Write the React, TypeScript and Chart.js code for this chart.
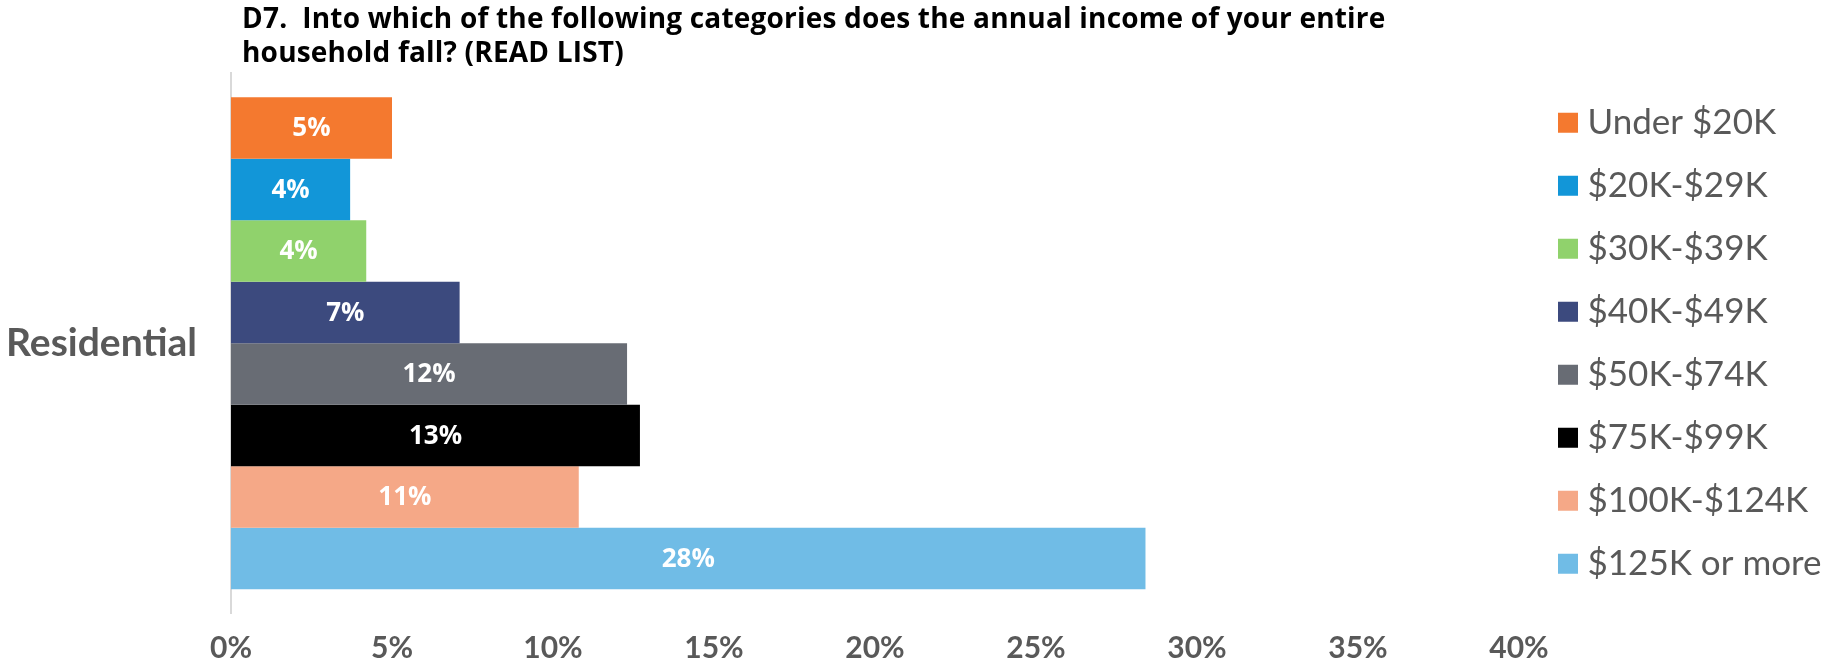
import React, { useEffect, useRef } from "react";
import { Chart, registerables } from "chart.js";

Chart.register(...registerables);

const categories = ["Residential"];
const seriesNames = [
  "Under $20K",
  "$20K-$29K",
  "$30K-$39K",
  "$40K-$49K",
  "$50K-$74K",
  "$75K-$99K",
  "$100K-$124K",
  "$125K or more",
];
const seriesValues = [5.0, 3.7, 4.2, 7.1, 12.3, 12.7, 10.8, 28.4];
const seriesColors = [
  "#F4792F",
  "#1296D8",
  "#90D26C",
  "#3C4A7E",
  "#686C74",
  "#000000",
  "#F5A887",
  "#70BCE6",
];
const xTickValues = [0, 5, 10, 15, 20, 25, 30, 35, 40];
const titleLines = [
  "D7.  Into which of the following categories does the annual income of your entire",
  "household fall? (READ LIST)",
];

const GRAY = "#595959";
const X_MAX = 40.59;

const barLabelPlugin = {
  id: "barLabels",
  afterDatasetsDraw(chart: any) {
    const ctx = chart.ctx;
    ctx.save();
    ctx.fillStyle = "#FFFFFF";
    ctx.font = "bold 26px 'Open Sans'";
    ctx.textAlign = "center";
    ctx.textBaseline = "middle";
    chart.data.datasets.forEach((ds: any, i: number) => {
      const meta = chart.getDatasetMeta(i);
      meta.data.forEach((el: any, j: number) => {
        const v = ds.data[j];
        const cx = (el.x + el.base) / 2;
        ctx.fillText(Math.round(v) + "%", cx, el.y + 1);
      });
    });
    ctx.restore();
  },
};

export default function App() {
  const canvasRef = useRef<HTMLCanvasElement | null>(null);

  useEffect(() => {
    if (!canvasRef.current) return;
    const chart = new Chart(canvasRef.current, {
      type: "bar",
      data: {
        labels: categories,
        datasets: seriesNames.map((name, i) => ({
          label: name,
          data: [seriesValues[i]],
          backgroundColor: seriesColors[i],
          borderWidth: 0,
          categoryPercentage: 0.91,
          barPercentage: 1.0,
        })),
      },
      options: {
        indexAxis: "y",
        animation: false,
        responsive: false,
        maintainAspectRatio: false,
        layout: { padding: { top: 73, left: 0, right: 0, bottom: 0 } },
        plugins: {
          title: { display: false },
          tooltip: { enabled: false },
          legend: {
            display: true,
            position: "right",
            align: "center",
            fullSize: false,
            maxWidth: 287,
            labels: {
              usePointStyle: true,
              pointStyle: "rect",
              boxWidth: 4,
              boxHeight: 20,
              padding: 28,
              color: GRAY,
              font: { family: "Lato", size: 35, weight: "normal" },
            },
          },
        },
        scales: {
          x: {
            type: "linear",
            min: 0,
            max: X_MAX,
            afterBuildTicks(scale: any) {
              scale.ticks = xTickValues.map((v) => ({ value: v }));
            },
            afterFit(scale: any) {
              scale.height = 51;
            },
            ticks: {
              includeBounds: false,
              padding: 17,
              color: GRAY,
              font: { family: "Lato", size: 30, weight: "bold" },
              callback: (v: any) => v + "%",
            },
            grid: { display: false, drawTicks: false },
            border: { display: false },
          },
          y: {
            type: "category",
            afterFit(scale: any) {
              scale.width = 231;
            },
            ticks: {
              padding: 34,
              color: GRAY,
              font: { family: "Lato", size: 39, weight: "bold" },
            },
            grid: { display: false, drawTicks: false },
            border: { display: true, color: "#D9D9D9", width: 2 },
          },
        },
      },
      plugins: [barLabelPlugin],
    });
    return () => chart.destroy();
  }, []);

  return (
    <div
      style={{
        position: "absolute",
        left: 0,
        top: 0,
        width: 1825,
        height: 671,
        background: "#FFFFFF",
      }}
    >
      <div
        style={{
          position: "absolute",
          left: 242,
          top: 0,
          fontFamily: "'Open Sans', sans-serif",
          fontWeight: "bold",
          fontSize: 28,
          lineHeight: "34px",
          letterSpacing: "0.2px",
          color: "#000000",
          whiteSpace: "pre",
        }}
      >
        {titleLines.map((t, i) => (
          <div key={i}>{t}</div>
        ))}
      </div>
      <canvas ref={canvasRef} width={1825} height={671} style={{ display: "block" }} />
    </div>
  );
}
